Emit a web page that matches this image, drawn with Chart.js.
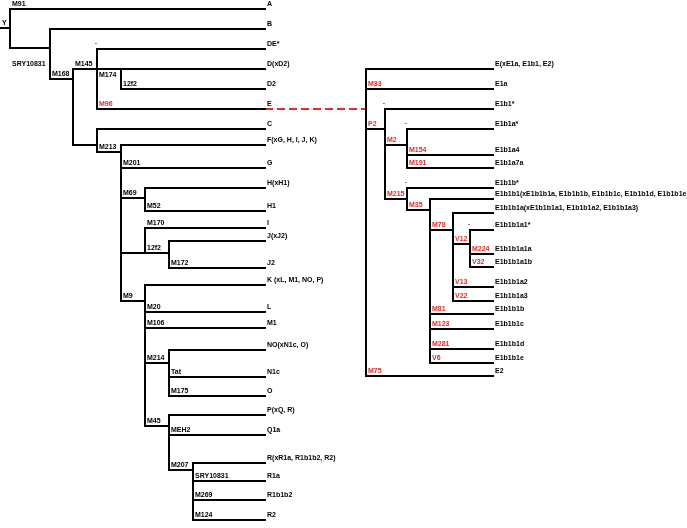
<!DOCTYPE html>
<html>
<head>
<meta charset="utf-8">
<script src="https://cdn.jsdelivr.net/npm/chart.js@4.4.1/dist/chart.umd.min.js"></script>
<style>
  body { margin: 0; background: #fff; }
</style>
</head>
<body>
<canvas id="tree" width="687" height="528"></canvas>
<script>
// Y-chromosome tree (left) with haplogroup E expanded on the right.
// One entry per node: leaf name ("" for inner nodes), parent index,
// marker written on the incoming branch, branch position and row.
const nodeName = [
  "", "A", "", "B", "", "", "DE*", "", "D(xD2)", "D2", "E", "", "C", "",
  "F(xG, H, I, J, K)", "G", "", "H(xH1)", "H1", "", "I", "", "J(xJ2)", "J2",
  "", "K (xL, M1, NO, P)", "L", "M1", "", "NO(xN1c, O)", "N1c", "O", "",
  "P(xQ, R)", "Q1a", "", "R(xR1a, R1b1b2, R2)", "R1a", "R1b1b2", "R2",
  "", "E(xE1a, E1b1, E2)", "E1a", "", "E1b1*", "", "E1b1a*", "E1b1a4", "E1b1a7a",
  "", "E1b1b*", "", "E1b1b1(xE1b1b1a, E1b1b1b, E1b1b1c, E1b1b1d, E1b1b1e)",
  "", "E1b1b1a(xE1b1b1a1, E1b1b1a2, E1b1b1a3)", "", "E1b1b1a1*", "E1b1b1a1a",
  "E1b1b1a1b", "E1b1b1a2", "E1b1b1a3", "E1b1b1b", "E1b1b1c", "E1b1b1d", "E1b1b1e", "E2"
];
const nodeParent = [
  -1, 0, 0, 2, 2, 4, 5, 5, 7, 7, 5, 4, 11, 11,
  13, 13, 13, 16, 16, 13, 19, 19, 21, 21,
  13, 24, 24, 24, 24, 28, 28, 28, 24,
  32, 32, 32, 35, 35, 35, 35,
  10, 40, 40, 40, 43, 43, 45, 45, 45,
  43, 49, 49, 51,
  51, 53, 53, 55, 55,
  55, 53, 53, 51, 51, 51, 51, 40
];
const nodeMarker = [
  "Y", "M91", "SRY10831", "", "M168", "M145", ".", "M174", "", "12f2", "M96", "", "", "M213",
  "", "M201", "M69", "", "M52", "", "M170", "12f2", "", "M172",
  "M9", "", "M20", "M106", "M214", "", "Tat", "M175", "M45",
  "", "MEH2", "M207", "", "SRY10831", "M269", "M124",
  "", "", "M33", "P2", ".", "M2", ".", "M154", "M191",
  "M215", ".", "M35", "",
  "M78", "", "V12", ".", "M224",
  "V32", "V13", "V22", "M81", "M123", "M281", "V6", "M75"
];
const nodeDepth = [
  10, 265, 50, 265, 73, 97, 265, 121, 265, 265, 265, 97, 265, 121,
  265, 265, 145, 265, 265, 145, 265, 169, 265, 265,
  145, 265, 265, 265, 169, 265, 265, 265, 169,
  265, 265, 193, 265, 265, 265, 265,
  366, 493, 493, 385, 493, 407, 493, 493, 493,
  407, 493, 430, 493,
  453, 493, 470, 493, 493,
  493, 493, 493, 493, 493, 493, 493, 493
];
const nodeRow = [
  28, 9, 48, 29, 79, 69, 49, 69, 69, 89, 109, 145, 129, 152,
  145, 168, 198, 188, 211, 253, 228, 253, 241, 268,
  301, 285, 312, 328, 363, 350, 377, 396, 426,
  415, 435, 470, 463, 481, 500, 520,
  109, 69, 89, 129, 109, 145, 129, 155, 168,
  199, 188, 210, 199,
  230, 213, 244, 230, 254,
  267, 287, 301, 314, 329, 349, 363, 376
];

const RED = "#e52b25";
const eIndex = nodeName.indexOf("E");
// a few markers sit off their usual spot in the original figure
const markerNudge = { 2: [0, 20.5], 7: [0, 10.5] };

function inE(i) {
  while (i >= 0) {
    if (i === eIndex) return true;
    i = nodeParent[i];
  }
  return false;
}

// segments as {x,y} pairs, broken by a null point
const solid = [];
const dashed = [];
function seg(arr, x1, y1, x2, y2) {
  arr.push({ x: x1, y: y1 }, { x: x2, y: y2 }, { x: x2, y: null });
}

nodeParent.forEach((p, i) => {
  const from = p < 0 ? 0 : nodeDepth[p];
  // a branch hanging off a leaf links the two trees
  const target = (p >= 0 && nodeName[p] !== "") ? dashed : solid;
  seg(target, from, nodeRow[i], nodeDepth[i], nodeRow[i]);
  if (nodeName[i] === "") {
    const rows = nodeRow.filter((r, j) => nodeParent[j] === i);
    seg(solid, nodeDepth[i], Math.min(...rows), nodeDepth[i], Math.max(...rows));
  }
});

const labelPlugin = {
  id: "treeLabels",
  afterDatasetsDraw(chart) {
    const { ctx, scales: { x, y } } = chart;
    ctx.save();
    ctx.font = 'bold 7px "Liberation Sans", Arial, sans-serif';
    ctx.textBaseline = "alphabetic";
    ctx.textAlign = "left";
    nodeParent.forEach((p, i) => {
      const row = y.getPixelForValue(nodeRow[i]);
      if (nodeName[i]) {
        ctx.fillStyle = "#000";
        ctx.fillText(nodeName[i], x.getPixelForValue(nodeDepth[i]) + 2, row - 3);
      }
      const m = nodeMarker[i];
      if (m) {
        const nudge = markerNudge[i] || (m === "." ? [-4, -2] : [0, 0]);
        ctx.fillStyle = (m !== "." && inE(i)) ? RED : "#000";
        const start = x.getPixelForValue(p < 0 ? 0 : nodeDepth[p]);
        ctx.fillText(m, start + 2 + nudge[0], row - 3 + nudge[1]);
      }
    });
    ctx.restore();
  }
};

new Chart(document.getElementById("tree"), {
  type: "line",
  data: {
    datasets: [
      {
        data: solid,
        borderColor: "#000",
        borderWidth: 2,
        borderCapStyle: "square",
        borderJoinStyle: "miter",
        pointRadius: 0,
        tension: 0,
        spanGaps: false,
        fill: false,
        clip: false
      },
      {
        data: dashed,
        borderColor: RED,
        borderWidth: 2,
        borderDash: [8, 4],
        pointRadius: 0,
        tension: 0,
        spanGaps: false,
        fill: false,
        clip: false
      }
    ]
  },
  options: {
    responsive: false,
    animation: false,
    events: [],
    layout: { padding: 0, autoPadding: false },
    scales: {
      x: { type: "linear", min: 0, max: 687, display: false },
      y: { type: "linear", min: 0, max: 528, reverse: true, display: false }
    },
    plugins: {
      legend: { display: false },
      tooltip: { enabled: false }
    }
  },
  plugins: [labelPlugin]
});
</script>
</body>
</html>
